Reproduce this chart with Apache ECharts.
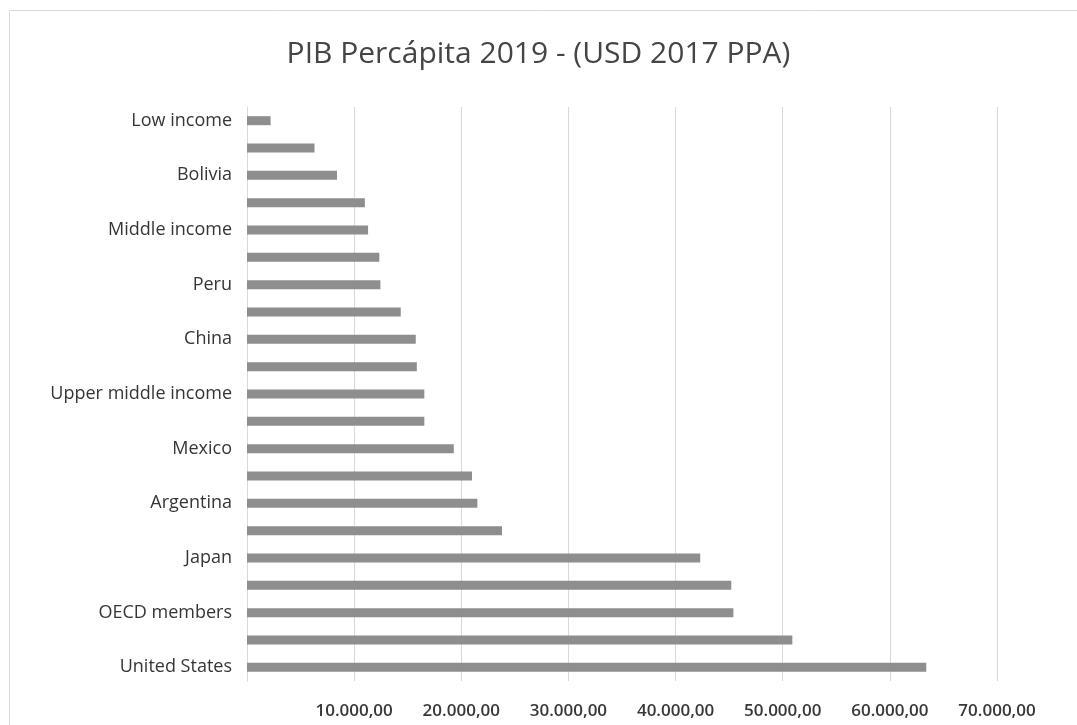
<!DOCTYPE html>
<html>
<head>
<meta charset="utf-8">
<script src="https://cdn.jsdelivr.net/npm/echarts@6/dist/echarts.min.js"></script>
<style>
  html, body { margin: 0; padding: 0; background: #ffffff; }
  #chart { width: 1077px; height: 725px; }
</style>
</head>
<body>
<div id="chart"></div>
<script>
// Categories listed top to bottom (only every other label is shown on the axis)
const categories = [
  "Low income", "Lower middle income", "Bolivia", "Paraguay", "Middle income",
  "Ecuador", "Peru", "Colombia", "China", "Brazil",
  "Upper middle income", "World", "Mexico", "Latin America & Caribbean", "Argentina",
  "Chile", "Japan", "European Union", "OECD members", "Canada", "United States"
];
const gdpPerCapita = [
  2200, 6300, 8400, 11000, 11300,
  12350, 12450, 14350, 15750, 15850,
  16550, 16550, 19300, 21000, 21500,
  23800, 42300, 45200, 45400, 50900, 63400
];
const titleText = "PIB Percápita 2019 - (USD 2017 PPA)";
const xMin = 0, xMax = 70000, xStep = 10000;

function fmt(v) {
  if (v === 0) return "";
  const s = Math.round(v).toString().replace(/\B(?=(\d{3})+(?!\d))/g, ".");
  return s + ",00";
}

const chart = echarts.init(document.getElementById('chart'), null, { renderer: 'canvas' });
chart.setOption({
  backgroundColor: '#ffffff',
  animation: false,
  title: {
    text: titleText,
    left: 'center',
    top: 34,
    textStyle: { fontFamily: 'Open Sans', fontSize: 30, fontWeight: 'normal', color: '#454545' }
  },
  graphic: [{
    type: 'rect',
    shape: { x: 9.5, y: 10.5, width: 1200, height: 900 },
    style: { fill: 'none', stroke: '#d9d9d9', lineWidth: 1 },
    silent: true
  }],
  grid: { left: 247, right: 80, top: 107, bottom: 44, containLabel: false },
  xAxis: {
    type: 'value',
    min: xMin, max: xMax, interval: xStep,
    axisLine: { show: false },
    axisTick: { show: false },
    splitLine: { show: true, lineStyle: { color: '#d9d9d9', width: 1 } },
    axisLabel: {
      formatter: fmt,
      margin: 22,
      fontFamily: 'Open Sans', fontSize: 17, fontWeight: 600, color: '#383838'
    }
  },
  yAxis: {
    type: 'category',
    data: categories,
    inverse: true,
    axisLine: { show: true, lineStyle: { color: '#d9d9d9', width: 1 } },
    axisTick: { show: false },
    axisLabel: {
      interval: 1,
      margin: 15,
      fontFamily: 'Open Sans', fontSize: 18, color: '#353535'
    }
  },
  series: [{
    type: 'bar',
    data: gdpPerCapita,
    barWidth: 9,
    itemStyle: { color: '#8e8e8e' }
  }]
});
</script>
</body>
</html>
